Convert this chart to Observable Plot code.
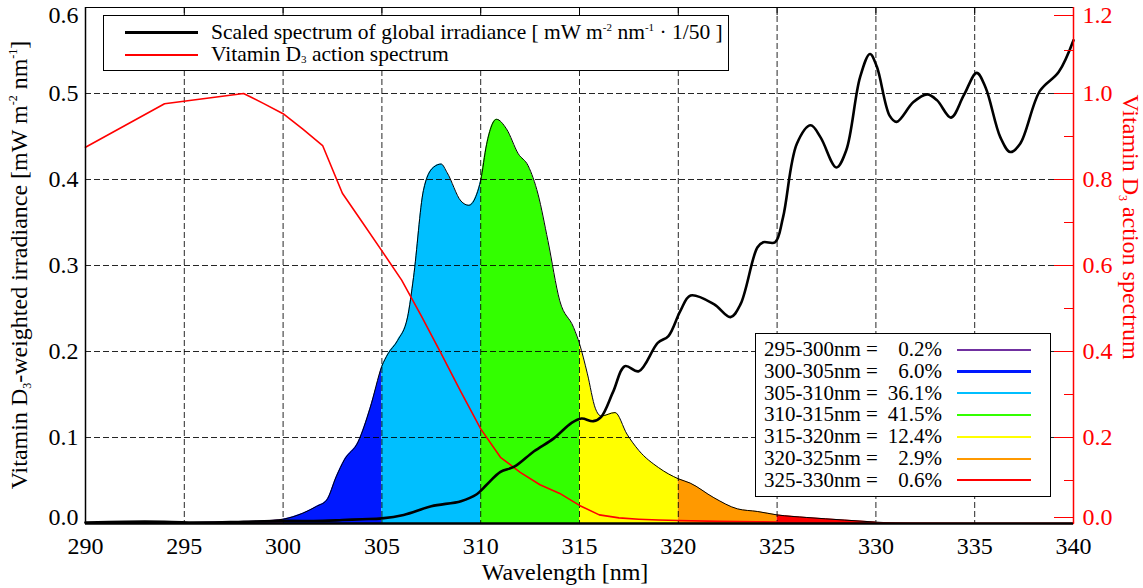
<!DOCTYPE html>
<html>
<head>
<meta charset="utf-8">
<script src="https://cdn.jsdelivr.net/npm/d3@7"></script>
<script src="https://cdn.jsdelivr.net/npm/@observablehq/plot@0.6"></script>
<style>
  body { margin: 0; background: #fff; }
  #chart { position: relative; width: 1143px; height: 588px; font-family: "Liberation Serif", Tinos, "Nimbus Roman", "DejaVu Serif", serif; color: #000; }
  .box { position: absolute; background: #fff; border: 1.5px solid #000; box-sizing: border-box; }
  .row { position: absolute; left: 0; right: 0; height: 21px; line-height: 21px; font-size: 21px; white-space: nowrap; }
  .sw { position: absolute; top: 50%; }
  sup, sub { font-size: 11px; line-height: 0; }
  sup { vertical-align: 8px; }
  sub { vertical-align: -2px; }
</style>
</head>
<body>
<div id="chart"></div>
<script>
// Wavelength bands used to split the vitamin D3-weighted irradiance
const bandStart = [295, 300, 305, 310, 315, 320, 325];
const bandEnd   = [300, 305, 310, 315, 320, 325, 330];
const bandColor = ["#7030a0", "#0018ff", "#00bfff", "#33ff00", "#ffff00", "#ff9900", "#ff0000"];
const bandShare = [0.2, 6.0, 36.1, 41.5, 12.4, 2.9, 0.6];

// Vitamin D3-weighted irradiance [mW m-2 nm-1]
const weightedWl = [290, 292, 294, 295, 297, 299, 300, 301, 301.7, 302.2, 302.7, 303.1, 303.8, 304.4, 305,
  305.3, 305.8, 306.3, 306.6, 307.1, 307.6, 308.0, 308.3, 309.0, 309.4, 309.8, 310,
  310.3, 310.8, 311.3, 311.9, 312.4, 312.9, 313.4, 314.0, 314.7, 315,
  315.4, 315.8, 316.1, 316.8, 317.4, 318.0, 319.0, 320,
  320.6, 321.8, 323.0, 324.0, 325, 326.5, 328.4, 330, 331, 332];
const weightedVal = [0.0003, 0.0005, 0.0008, 0.001, 0.002, 0.003, 0.005, 0.012, 0.02, 0.027, 0.055, 0.074, 0.095, 0.134, 0.183,
  0.197, 0.213, 0.24, 0.286, 0.387, 0.414, 0.418, 0.408, 0.375, 0.37, 0.383, 0.399,
  0.441, 0.47, 0.459, 0.43, 0.416, 0.383, 0.329, 0.259, 0.228, 0.209,
  0.174, 0.134, 0.125, 0.129, 0.104, 0.085, 0.065, 0.052,
  0.047, 0.03, 0.017, 0.014, 0.01, 0.007, 0.004, 0.0016, 0.0004, 0];

// Global irradiance spectrum, scaled by 1/50
const globalWl = [290, 292, 294, 296, 298, 300, 302, 303, 304, 305, 306.1, 307.5, 309.0, 309.8, 310.3, 311.0, 311.7,
  312.7, 313.7, 314.6, 315.1, 315.7, 316.1, 316.7, 317.3, 318.0, 318.96, 319.5, 320.1, 320.62, 321.8,
  322.64, 323.15, 324.0, 324.3, 324.9, 325.3, 326.0, 326.7, 327.2, 328.0, 328.5, 329.2, 329.7, 330.05,
  330.7, 331.05, 331.9, 332.6, 333.1, 333.8, 334.45, 335.1, 335.55, 336.3, 336.8, 337.3, 338.3, 339.25, 340];
const globalVal = [0.001, 0.002, 0.002, 0.001, 0.002, 0.003, 0.003, 0.004, 0.005, 0.006, 0.01, 0.02, 0.026, 0.034, 0.045, 0.06, 0.066,
  0.084, 0.099, 0.117, 0.122, 0.119, 0.124, 0.153, 0.183, 0.177, 0.21, 0.218, 0.247, 0.265, 0.255,
  0.24, 0.255, 0.321, 0.327, 0.327, 0.356, 0.4415, 0.463, 0.449, 0.414, 0.434, 0.519, 0.546, 0.531,
  0.474, 0.467, 0.49, 0.499, 0.492, 0.472, 0.498, 0.524, 0.507, 0.449, 0.432, 0.4415, 0.503, 0.525, 0.562];

// Vitamin D3 action spectrum (relative, right axis)
const actionWl  = [290, 294, 298, 299, 300, 301, 302, 303, 304, 305, 306, 307, 308, 309, 310, 311, 312, 313, 314, 315, 316, 317, 318, 319, 320, 322, 324, 326, 328, 330, 335, 340];
const actionVal = [0.875, 0.976, 1.0, 0.977, 0.953, 0.917, 0.879, 0.768, 0.701, 0.634, 0.566, 0.482, 0.395, 0.306, 0.22, 0.154, 0.119, 0.09, 0.07, 0.042, 0.02, 0.013, 0.01, 0.008, 0.007, 0.005, 0.004, 0.003, 0.002, 0.001, 0.0005, 0.0003];

// Axis ticks
const xTicks = d3.range(290, 341, 5);
const leftTicks = [0.0, 0.1, 0.2, 0.3, 0.4, 0.5, 0.6];
const rightTicks = [0.0, 0.2, 0.4, 0.6, 0.8, 1.0, 1.2];
const rightMinor = [0.1, 0.3, 0.5, 0.7, 0.9, 1.1];

// The action spectrum (0..1.2) shares the plot with the irradiance axis (0..0.6)
const rightToLeft = 0.6 / 1.2;

const weighted = weightedWl.map((wl, i) => ({wl, v: weightedVal[i]}));
const globalSpec = globalWl.map((wl, i) => ({wl, v: globalVal[i]}));
const action = actionWl.map((wl, i) => ({wl, v: actionVal[i]}));
const bandLabel = bandStart.map((s, i) => `${s}-${bandEnd[i]}nm`);
const bandRows = bandStart.flatMap((s, i) =>
  weighted.filter(p => p.wl >= s && p.wl <= bandEnd[i]).map(p => ({...p, band: bandLabel[i]})));

const font = '"Liberation Serif", Tinos, "Nimbus Roman", "DejaVu Serif", serif';
const dash = "6,3";
const fmt1 = d => d.toFixed(1);

const plot = Plot.plot({
  width: 1143,
  height: 588,
  marginLeft: 85,
  marginRight: 70,
  marginTop: 7,
  marginBottom: 65,
  style: {fontFamily: font, fontSize: "24px", background: "#fff", color: "#000"},
  x: {domain: [290, 340]},
  y: {domain: [0, 0.6]},
  color: {domain: bandLabel, range: bandColor},
  marks: [
    // weighted irradiance, coloured per band (unstacked)
    Plot.areaY(bandRows, {x: "wl", y1: 0, y2: "v", z: "band", fill: "band", curve: "monotone-x"}),
    Plot.lineY(weighted, {x: "wl", y: "v", stroke: "#000", strokeWidth: 1, curve: "monotone-x"}),
    // dashed grid
    Plot.gridX({ticks: d3.range(295, 340, 5), stroke: "#000", strokeOpacity: 0.85, strokeDasharray: dash}),
    Plot.gridY({ticks: [0.1, 0.2, 0.3, 0.4, 0.5], stroke: "#000", strokeOpacity: 0.85, strokeDasharray: dash}),
    // spectra
    Plot.lineY(action, {x: "wl", y: d => d.v * rightToLeft, stroke: "#ff0000", strokeWidth: 1.6}),
    Plot.lineY(globalSpec, {x: "wl", y: "v", stroke: "#000", strokeWidth: 2.6, curve: "catmull-rom"}),
    // frame
    Plot.ruleY([0.6], {stroke: "#000", strokeWidth: 1.2}),
    Plot.ruleX([290], {stroke: "#000", strokeWidth: 1.5}),
    Plot.ruleY([0], {stroke: "#000", strokeWidth: 2.5}),
    Plot.ruleX([340], {stroke: "#ff0000", strokeWidth: 1.5}),
    // bottom axis
    Plot.axisX({ticks: xTicks, tickSize: 0, tickPadding: 13, label: null, tickFormat: d => d}),
    Plot.axisX({anchor: "top", ticks: d3.range(295, 340, 5), tickSize: -7, tickFormat: () => "", label: null}),
    // left axis
    Plot.axisY({ticks: leftTicks.slice(1, 6), tickSize: 0, tickPadding: 7, tickFormat: fmt1, label: null}),
    Plot.axisY({ticks: [leftTicks[6]], tickSize: 0, tickPadding: 7, tickFormat: fmt1, dy: 8, label: null}),
    Plot.axisY({ticks: [leftTicks[0]], tickSize: 0, tickPadding: 7, tickFormat: fmt1, dy: -6, label: null}),
    // right axis (action spectrum)
    Plot.axisY({anchor: "right", ticks: rightTicks.slice(1, 6).map(t => t * rightToLeft), tickSize: -20, tickPadding: 29,
      tickFormat: d => fmt1(d / rightToLeft), color: "#ff0000", label: null}),
    Plot.axisY({anchor: "right", ticks: [rightTicks[6] * rightToLeft], tickSize: -20, tickPadding: 29,
      tickFormat: d => fmt1(d / rightToLeft), color: "#ff0000", dy: 8, label: null}),
    Plot.axisY({anchor: "right", ticks: [rightTicks[0]], tickSize: -20, tickPadding: 29,
      tickFormat: d => fmt1(d / rightToLeft), color: "#ff0000", dy: -6, label: null}),
    Plot.axisY({anchor: "right", ticks: rightMinor.map(t => t * rightToLeft), tickSize: -10, tickFormat: () => "",
      color: "#ff0000", label: null})
  ]
});

const chart = document.getElementById("chart");
chart.appendChild(plot);

// axis titles with sub/superscripts
const svg = d3.select(plot);
function title(x, y, angle, fill, parts) {
  const t = svg.append("text")
    .attr("transform", `translate(${x},${y}) rotate(${angle})`)
    .attr("text-anchor", "middle")
    .attr("fill", fill)
    .style("font-family", font)
    .style("font-size", "24px");
  for (const [str, kind] of parts) {
    const s = t.append("tspan").text(str);
    if (kind === "sub") s.attr("font-size", 12).attr("dy", 4);
    else if (kind === "sup") s.attr("font-size", 12).attr("dy", -10);
    else if (kind === "back-sub") s.attr("dy", -4);
    else if (kind === "back-sup") s.attr("dy", 10);
  }
}
title(565, 580, 0, "#000", [["Wavelength [nm]"]]);
title(27, 265, -90, "#000", [["Vitamin D"], ["3", "sub"], ["-weighted irradiance [mW m", "back-sub"], ["-2", "sup"],
  [" nm", "back-sup"], ["-1", "sup"], ["]", "back-sup"]]);
title(1123, 227, 90, "#ff0000", [["Vitamin D"], ["3", "sub"], [" action spectrum", "back-sub"]]);

// legend of the two curves
const curveLegend = document.createElement("div");
curveLegend.className = "box";
Object.assign(curveLegend.style, {left: "103px", top: "15px", width: "626px", height: "56px"});
curveLegend.innerHTML = `
  <div class="row" style="top:6px;font-size:21.5px"><span class="sw" style="left:21px;width:73px;border-top:3px solid #000;margin-top:-1.5px"></span>
    <span style="position:absolute;left:107px">Scaled spectrum of global irradiance [ mW m<sup>-2</sup> nm<sup>-1</sup> · 1/50 ]</span></div>
  <div class="row" style="top:28px;font-size:21.5px"><span class="sw" style="left:21px;width:73px;border-top:2px solid #ff0000;margin-top:-1px"></span>
    <span style="position:absolute;left:107px">Vitamin D<sub>3</sub> action spectrum</span></div>`;
chart.appendChild(curveLegend);

// legend of band shares
const bandLegend = document.createElement("div");
bandLegend.className = "box";
Object.assign(bandLegend.style, {left: "755px", top: "333px", width: "296px", height: "164px"});
bandLabel.forEach((lab, i) => {
  const row = document.createElement("div");
  row.className = "row";
  row.style.top = (5 + i * 21.8) + "px";
  row.innerHTML = `<span style="position:absolute;left:8px">${lab} =</span>
    <span style="position:absolute;right:108px">${bandShare[i].toFixed(1)}%</span>
    <span class="sw" style="left:201px;width:74px;border-top:${i === 1 ? 3 : 2.5}px solid ${bandColor[i]};margin-top:-1px"></span>`;
  bandLegend.appendChild(row);
});
chart.appendChild(bandLegend);
</script>
</body>
</html>
